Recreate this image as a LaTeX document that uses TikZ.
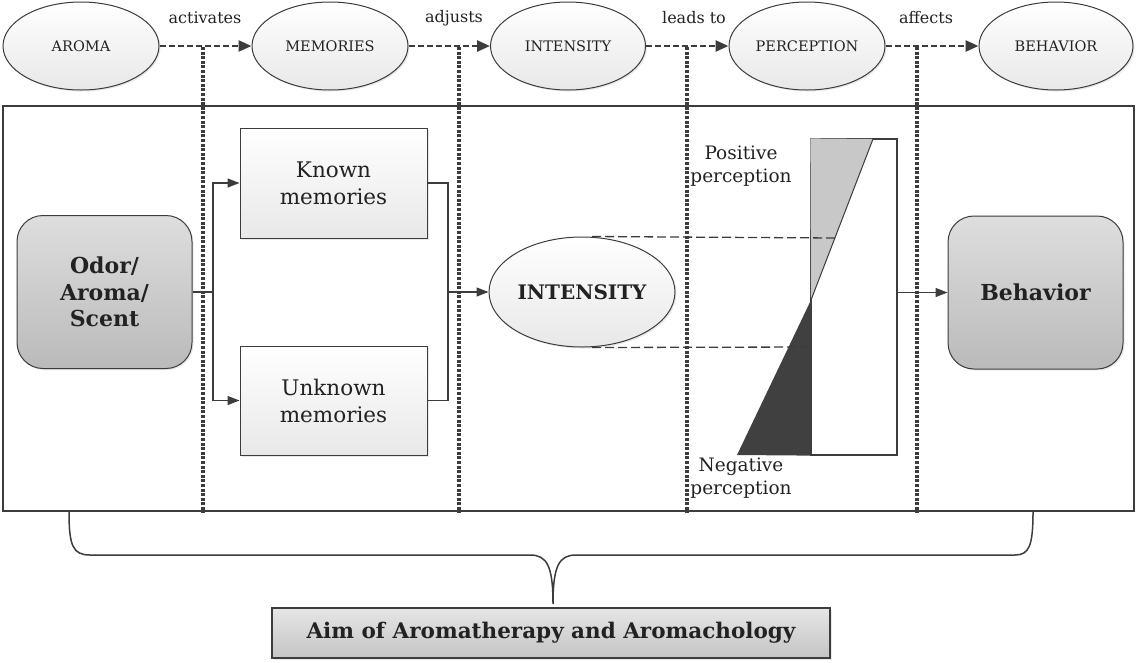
\documentclass[tikz,border=0pt]{standalone}
\usepackage{fontspec}
\setmainfont{DejaVu Serif}
\usetikzlibrary{arrows.meta,shapes.geometric,shadows,calc}
\definecolor{ln}{HTML}{3C3C3C}
\definecolor{txt}{HTML}{222222}
\definecolor{lightg}{HTML}{C8C8C8}
\definecolor{darkg}{HTML}{404040}
\tikzset{
  shad/.style={drop shadow={opacity=0.18,shadow xshift=1.5pt,shadow yshift=-1.5pt}},
  topell/.style={ellipse,draw=ln,line width=1pt,top color=white,bottom color=black!9,
     minimum width=156pt,minimum height=88pt,inner sep=0pt,text=txt,
     font=\fontsize{14.5}{16}\selectfont,shad},
  toparrow/.style={draw=ln,line width=2.6pt,dash pattern=on 6pt off 3pt,
     -{Triangle[length=13pt,width=11pt]}},
  vdot/.style={draw=ln,line width=3.2pt,dash pattern=on 3pt off 1.6pt},
  toplabel/.style={text=txt,font=\fontsize{16}{18}\selectfont,inner sep=0pt},
  graybox/.style={draw=ln,line width=1pt,rounded corners=26pt,top color=black!13,bottom color=black!27,
     minimum width=175pt,minimum height=153pt,align=center,text=txt,
     font=\bfseries\fontsize{22}{26.5}\selectfont,shad},
  membox/.style={draw=ln,line width=1pt,top color=white,bottom color=black!9,
     minimum width=187pt,minimum height=110pt,align=center,text=txt,
     font=\fontsize{21.5}{27}\selectfont,shad},
  conn/.style={draw=ln,line width=1.3pt},
  connarrow/.style={draw=ln,line width=1.3pt,-{Triangle[length=12pt,width=9pt]}},
  hdash/.style={draw=ln,line width=1.3pt,dash pattern=on 9pt off 4pt},
  perclabel/.style={align=center,text=txt,font=\fontsize{18.5}{23}\selectfont,inner sep=0pt}
}
\begin{document}
\begin{tikzpicture}[x=1pt,y=-1pt]
\useasboundingbox (0,0) rectangle (1137,662);

% main frame
\draw[ln,line width=1.3pt] (3,106) rectangle (1134,511);

% top row
\node[topell] (aroma) at (81,46) {AROMA};
\node[topell] (mem) at (330,46) {MEMORIES};
\node[topell,minimum width=155pt] (inten) at (568,46) {INTENSITY};
\node[topell] (perc) at (807,46) {PERCEPTION};
\node[topell,minimum width=154pt] (beh) at (1056,46) {BEHAVIOR};

\node[toplabel] (l1) at (205,18) {activates};
\node[toplabel] (l2) at (454,18) {adjusts};
\node[toplabel] (l3) at (694,18) {leads to};
\node[toplabel] (l4) at (926,18) {affects};

\coordinate (v1t) at (203,47); \coordinate (v1b) at (203,513);
\coordinate (v2t) at (459,47); \coordinate (v2b) at (459,513);
\coordinate (v3t) at (687,47); \coordinate (v3b) at (687,513);
\coordinate (v4t) at (917,47); \coordinate (v4b) at (917,513);
\draw[vdot] (v1t) -- (v1b);
\draw[vdot] (v2t) -- (v2b);
\draw[vdot] (v3t) -- (v3b);
\draw[vdot] (v4t) -- (v4b);

\draw[toparrow] (aroma.east) -- (mem.west);
\draw[toparrow] (mem.east) -- (inten.west);
\draw[toparrow] (inten.east) -- (perc.west);
\draw[toparrow] (perc.east) -- (beh.west);

% inner nodes
\node[graybox] (odor) at (104.5,292) {Odor/\\Aroma/\\Scent};
\node[membox] (known) at (333.5,183) {Known\\memories};
\node[membox,minimum height=109pt] (unknown) at (333.5,400.5) {Unknown\\memories};
\node[ellipse,draw=ln,line width=1pt,top color=white,bottom color=black!9,
      minimum width=186pt,minimum height=110pt,inner sep=0pt,text=txt,
      font=\bfseries\fontsize{20}{24}\selectfont,shad] (int) at (582,292) {INTENSITY};
\node[graybox] (behav) at (1035.5,292.5) {Behavior};

% perception bar
\node[draw=ln,line width=1.2pt,fill=white,minimum width=86pt,minimum height=316pt,inner sep=0pt] (bar) at (854,297) {};
\coordinate (ptop) at (873,139);
\coordinate (pmid) at (811,300);
\coordinate (pbot) at (737,455);
\fill[lightg] (bar.north west) -- (ptop) -- (pmid) -- cycle;
\fill[darkg] (pmid) -- (pbot) -- (bar.south west) -- cycle;
\draw[ln,line width=1pt] (ptop) -- (pmid);

\coordinate (dtop) at (835,238);
\coordinate (dbot) at (811,347);
\draw[hdash] ($(int.north)+(10,0)$) -- (dtop);
\draw[hdash] ($(int.south)+(10,0)$) -- (dbot);

\node[perclabel] (pos) at (741,166) {Positive\\perception};
\node[perclabel] (neg) at (741,478) {Negative\\perception};

% connectors
\coordinate (j1) at (213,292);
\coordinate (j2) at (448,292);
\draw[conn] (odor.east) -- (j1);
\draw[connarrow] (j1) |- (known.west);
\draw[connarrow] (j1) |- (unknown.west);
\draw[conn] (known.east) -| (j2);
\draw[conn] (unknown.east) -| (j2);
\draw[connarrow] (j2) -- (int.west);
\draw[connarrow] (bar.east |- behav.west) -- (behav.west);

% brace
\coordinate (btl) at (69,512);
\coordinate (btr) at (1033,512);
\coordinate (tip) at (553,604);
\draw[ln,line width=1.5pt] (btl) .. controls (69,546) and (73,555) .. (90,555)
   -- (530,555) .. controls (547,555) and (553,566) .. (tip)
   .. controls (553,566) and (559,555) .. (576,555)
   -- (1015,555) .. controls (1029,555) and (1033,546) .. (btr);

% aim box
\node[draw=ln,line width=1.2pt,top color=black!10,bottom color=black!23,
      minimum width=558pt,minimum height=50pt,text=txt,
      font=\bfseries\fontsize{21.5}{24}\selectfont,shad] (aim) at (551,633) {Aim of Aromatherapy and Aromachology};
\end{tikzpicture}
\end{document}
